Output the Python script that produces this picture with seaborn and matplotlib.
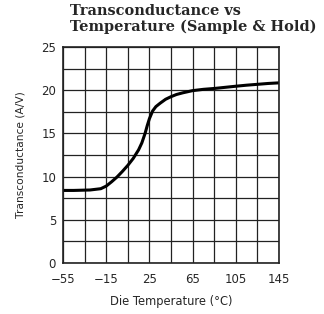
import matplotlib
matplotlib.use("Agg")
import matplotlib.pyplot as plt
import numpy as np
import pandas as pd
import seaborn as sns

# values
temperature = [-55, -45, -30, -20, -15, -10, -5, 0, 5, 10, 15, 18, 21, 23, 25, 28,
               31, 35, 40, 45, 50, 56, 65, 75, 85, 95, 105, 115, 127, 135, 145]
transconductance = [8.4, 8.4, 8.45, 8.6, 8.9, 9.4, 9.95, 10.6, 11.3, 12.1, 13.1, 13.9,
                    15.0, 15.9, 16.7, 17.6, 18.1, 18.5, 18.95, 19.25, 19.5, 19.7, 19.95,
                    20.1, 20.2, 20.33, 20.46, 20.58, 20.7, 20.78, 20.85]
x_ticks = [-55, -15, 25, 65, 105, 145]
y_ticks = [0, 5, 10, 15, 20, 25]

df = pd.DataFrame({"temp": temperature, "gm": transconductance})

sns.set_style("white")
plt.rcParams["font.family"] = ["DejaVu Sans"]

fig = plt.figure(figsize=(3.24, 3.14), dpi=100)
ax = fig.add_axes([63 / 324, 1 - 263 / 314, 216 / 324, 216 / 314])

sns.lineplot(data=df, x="temp", y="gm", ax=ax, color="black", linewidth=2.2)

ax.set_xlim(-55, 145)
ax.set_ylim(0, 25)
ax.set_xticks(x_ticks)
ax.set_yticks(y_ticks)
ax.set_xticks(np.arange(-55, 146, 20), minor=True)
ax.set_yticks(np.arange(0, 25.1, 2.5), minor=True)
ax.grid(which="both", color="#222222", linewidth=0.9)
ax.tick_params(which="both", length=0, labelsize=8.5)
ax.tick_params(axis="x", pad=7)
ax.tick_params(axis="y", pad=5)
for s in ax.spines.values():
    s.set_color("#222222")
    s.set_linewidth(1.2)

ax.set_xlabel("Die Temperature (°C)", fontsize=8.3, labelpad=7)
ax.set_ylabel("Transconductance (A/V)", fontsize=7.7, labelpad=11)

fig.text(70 / 324, 1 - 4 / 314, "Transconductance vs\nTemperature (Sample & Hold)",
         ha="left", va="top", fontsize=10.45, fontweight="bold",
         family="DejaVu Serif", linespacing=1.1)

fig.savefig("out.png", dpi=100)
